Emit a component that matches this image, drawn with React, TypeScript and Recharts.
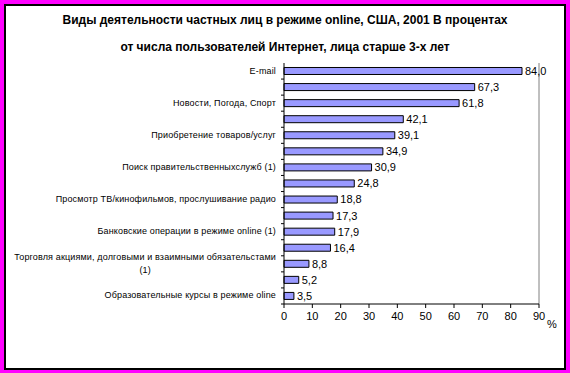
import React from 'react';
import { BarChart, Bar, XAxis, YAxis, LabelList, ReferenceLine } from 'recharts';

const categories = [
  'E-mail',
  '',
  'Новости, Погода, Спорт',
  '',
  'Приобретение товаров/услуг',
  '',
  'Поиск правительственныхслужб (1)',
  '',
  'Просмотр ТВ/кинофильмов, прослушивание радио',
  '',
  'Банковские операции в режиме online (1)',
  '',
  'Торговля акциями, долговыми и взаимными обязательстами\n(1)',
  '',
  'Образовательные курсы в режиме oline',
];

const values = [84.0, 67.3, 61.8, 42.1, 39.1, 34.9, 30.9, 24.8, 18.8, 17.3, 17.9, 16.4, 8.8, 5.2, 3.5];

const xTicks = [0, 10, 20, 30, 40, 50, 60, 70, 80, 90];

const data = categories.map((name, i) => ({ id: i, name, value: values[i] }));

const FONT = 'Arial, "Liberation Sans", sans-serif';
const BAND = 241 / categories.length;

const CategoryTick = (props: any) => {
  const { x, y, payload } = props;
  const label = categories[payload.value] ?? '';
  return (
    <g>
      <line x1={x - 3} x2={x} y1={y + BAND / 2} y2={y + BAND / 2} stroke="#000" />
      {label && (
        <foreignObject x={0} y={y - 16} width={x - 8} height={32}>
          <div
            style={{
              display: 'flex',
              justifyContent: 'flex-end',
              alignItems: 'center',
              height: '100%',
            }}
          >
            <span
              style={{
                fontFamily: FONT,
                fontSize: 9,
                letterSpacing: 0.15,
                lineHeight: '13px',
                whiteSpace: 'pre',
                textAlign: 'center',
                color: '#000',
              }}
            >
              {label}
            </span>
          </div>
        </foreignObject>
      )}
    </g>
  );
};

const fmt = (v: any) => Number(v).toFixed(1).replace('.', ',');

export default function App() {
  return (
    <div style={{ position: 'absolute', left: 0, top: 0, width: 570, height: 373, background: '#ff00ff' }}>
      <div
        style={{
          position: 'absolute',
          left: 4,
          top: 4,
          width: 562,
          height: 366,
          boxSizing: 'border-box',
          border: '2px solid #000',
          background: '#fff',
        }}
      />
      <div
        style={{
          position: 'absolute',
          left: 0,
          top: 7,
          width: 570,
          textAlign: 'center',
          fontFamily: FONT,
          fontWeight: 'bold',
          fontSize: 12,
          lineHeight: '27px',
          color: '#000',
        }}
      >
        <div>Виды деятельности частных лиц в режиме online, США, 2001 В процентах</div>
        <div>от числа пользователей Интернет, лица старше 3-х лет</div>
      </div>
      <div style={{ position: 'absolute', left: 0, top: 0 }}>
        <BarChart
          width={570}
          height={373}
          data={data}
          layout="vertical"
          barCategoryGap="28%"
          margin={{ top: 63, right: 31, bottom: 39, left: 0 }}
        >
          <XAxis
            type="number"
            domain={[0, 90]}
            ticks={xTicks}
            interval={0}
            height={30}
            axisLine={{ stroke: '#000' }}
            tickLine={{ stroke: '#000' }}
            tickSize={4}
            tickMargin={4}
            tick={{ fill: '#000', fontSize: 11, fontFamily: FONT }}
            label={{ value: '%', position: 'right', offset: 8, dy: 5, fill: '#000', fontSize: 11, fontFamily: FONT }}
          />
          <XAxis
            xAxisId="top"
            orientation="top"
            type="number"
            domain={[0, 90]}
            height={0}
            tick={false}
            tickLine={false}
            axisLine={{ stroke: '#808080' }}
          />
          <YAxis
            type="category"
            dataKey="id"
            width={284}
            interval={0}
            axisLine={{ stroke: '#000' }}
            tickLine={false}
            tickSize={0}
            tickMargin={0}
            tick={<CategoryTick />}
          />
          <ReferenceLine x={90} stroke="#808080" />
          <Bar dataKey="value" fill="#9999ff" stroke="#000" strokeWidth={1} isAnimationActive={false}>
            <LabelList
              dataKey="value"
              position="right"
              offset={3}
              formatter={fmt}
              style={{ fill: '#000', fontSize: 11, fontFamily: FONT }}
            />
          </Bar>
        </BarChart>
      </div>
    </div>
  );
}
